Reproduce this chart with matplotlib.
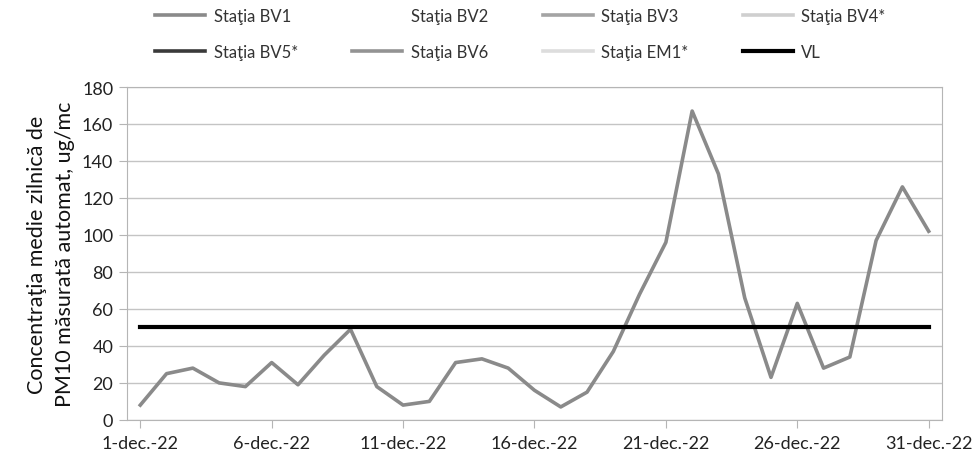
import numpy as np
import matplotlib
matplotlib.use("Agg")
import matplotlib.pyplot as plt

plt.rcParams['font.family'] = ['Lato', 'DejaVu Sans']

# daily PM10 means, December 2022
days = np.arange(1, 32)
bv1 = [8, 25, 28, 20, 18, 31, 19, 35, 49, 18, 8, 10, 31, 33, 28, 16, 7, 15, 37, 68,
       96, 167, 133, 66, 23, 63, 28, 34, 97, 126, 102]
vl = [50] * 31

tick_days = [1, 6, 11, 16, 21, 26, 31]
tick_labels = ['1-dec.-22', '6-dec.-22', '11-dec.-22', '16-dec.-22',
               '21-dec.-22', '26-dec.-22', '31-dec.-22']

stations = ['Staţia BV1', 'Staţia BV2', 'Staţia BV3', 'Staţia BV4*',
            'Staţia BV5*', 'Staţia BV6', 'Staţia EM1*', 'VL']
colors = ['#8a8a8a', '#ffffff', '#a4a4a4', '#cfcfcf',
          '#3a3a3a', '#939393', '#dddddd', '#000000']

fig = plt.figure(figsize=(9.78, 4.56), dpi=100)
ax = fig.add_axes([0.130, 0.077, 0.833, 0.730])

lines = {}
for name, col in zip(stations, colors):
    if name == 'Staţia BV1':
        ln, = ax.plot(days, bv1, color=col, lw=2.6, zorder=3)
    elif name == 'VL':
        ln, = ax.plot(days, vl, color=col, lw=3, zorder=4)
    else:
        # no data shown for these stations
        ln, = ax.plot([], [], color=col, lw=2.6)
    lines[name] = ln

ax.set_xlim(0.5, 31.5)
ax.set_ylim(0, 180)
ax.set_yticks(np.arange(0, 181, 20))
ax.set_xticks(tick_days)
ax.set_xticklabels(tick_labels)
ax.grid(axis='y', color='#c4c4c4', lw=1)
ax.set_axisbelow(True)
for s in ax.spines.values():
    s.set_color('#b5b5b5')
ax.tick_params(axis='both', labelsize=13, colors='#b5b5b5', labelcolor='#222222', length=6)
ax.tick_params(axis='x', pad=5)
ax.tick_params(axis='y', pad=4)

ax.set_ylabel('Concentraţia medie zilnică de\nPM10 măsurată automat, ug/mc',
              fontsize=15.5, color='#111111', labelpad=5, linespacing=1.5)

# legend is filled column by column, so reorder for row-wise layout
order = [0, 4, 1, 5, 2, 6, 3, 7]
handles = [lines[stations[i]] for i in order]
labels = [stations[i] for i in order]
fig.legend(handles, labels, ncol=4, loc='lower left', mode='expand',
           bbox_to_anchor=(0.152, 0.851, 0.76, 0.13), frameon=False,
           fontsize=12, handlelength=3.0, handletextpad=0.5, labelspacing=1.2,
           labelcolor='#333333', borderaxespad=0)

fig.savefig('out.png', dpi=100)
